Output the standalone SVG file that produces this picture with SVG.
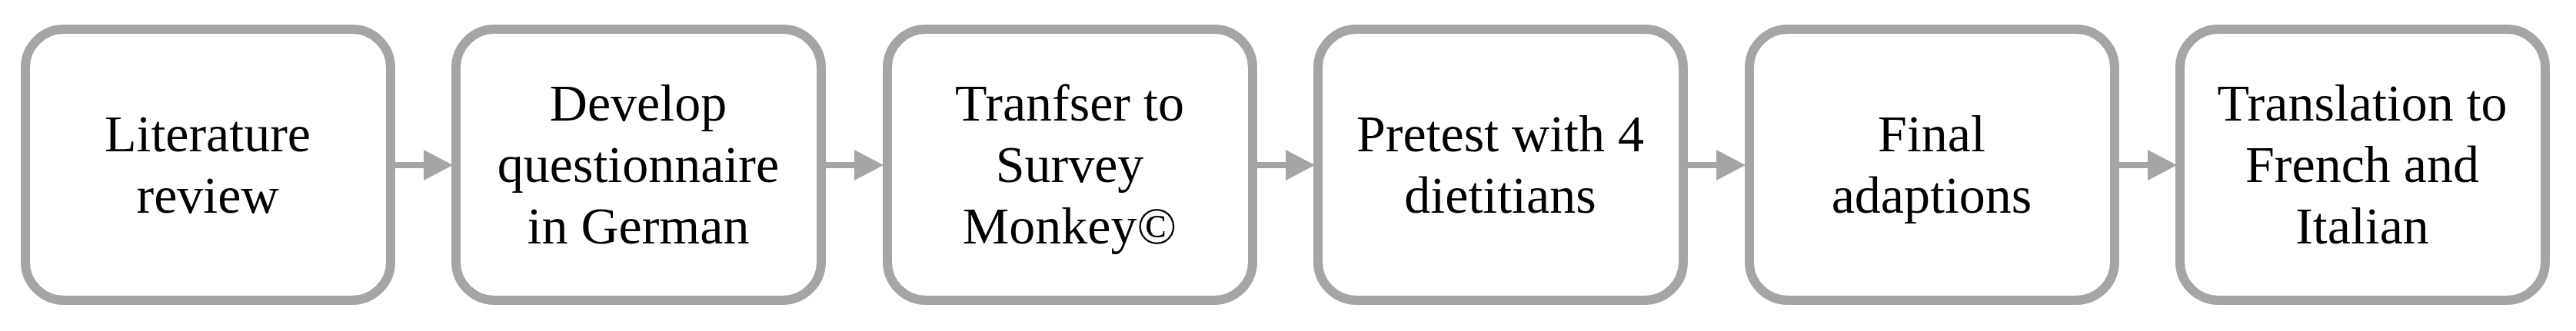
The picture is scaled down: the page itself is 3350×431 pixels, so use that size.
<svg xmlns="http://www.w3.org/2000/svg" width="3350" height="431" viewBox="0 0 3350 431">
<style>
.box{fill:#fff;stroke:#A5A5A5;stroke-width:12}
.t{font-family:"Liberation Serif","DejaVu Serif",serif;font-size:68px;fill:#000;text-anchor:middle}
.c{stroke:#A5A5A5;stroke-width:8;fill:none}
.h{fill:#A5A5A5}
</style>
<rect width="3350" height="431" fill="#fff"/>
<g id="connectors">
<line class="c" x1="514" y1="215" x2="555" y2="215"/><polygon class="h" points="551,195 589,215 551,235"/>
<line class="c" x1="1074" y1="215" x2="1115" y2="215"/><polygon class="h" points="1111,195 1149,215 1111,235"/>
<line class="c" x1="1635" y1="215" x2="1676" y2="215"/><polygon class="h" points="1672,195 1710,215 1672,235"/>
<line class="c" x1="2195" y1="215" x2="2236" y2="215"/><polygon class="h" points="2232,195 2270,215 2232,235"/>
<line class="c" x1="2756" y1="215" x2="2797" y2="215"/><polygon class="h" points="2793,195 2831,215 2793,235"/>
</g>
<g id="n1"><rect class="box" x="33" y="38" width="475" height="353" rx="50"/>
<text class="t" x="270" y="197">Literature</text><text class="t" x="270" y="277">review</text></g>
<g id="n2"><rect class="box" x="593" y="38" width="475" height="353" rx="50"/>
<text class="t" x="830" y="157">Develop</text><text class="t" x="830" y="237">questionnaire</text><text class="t" x="830" y="317">in German</text></g>
<g id="n3"><rect class="box" x="1154" y="38" width="475" height="353" rx="50"/>
<text class="t" x="1391" y="157">Tranfser to</text><text class="t" x="1391" y="237">Survey</text><text class="t" x="1391" y="317">Monkey©</text></g>
<g id="n4"><rect class="box" x="1714" y="38" width="475" height="353" rx="50"/>
<text class="t" x="1951" y="197">Pretest with 4</text><text class="t" x="1951" y="277">dietitians</text></g>
<g id="n5"><rect class="box" x="2275" y="38" width="475" height="353" rx="50"/>
<text class="t" x="2512" y="197">Final</text><text class="t" x="2512" y="277">adaptions</text></g>
<g id="n6"><rect class="box" x="2835" y="38" width="475" height="353" rx="50"/>
<text class="t" x="3072" y="157">Translation to</text><text class="t" x="3072" y="237">French and</text><text class="t" x="3072" y="317">Italian</text></g>
</svg>
